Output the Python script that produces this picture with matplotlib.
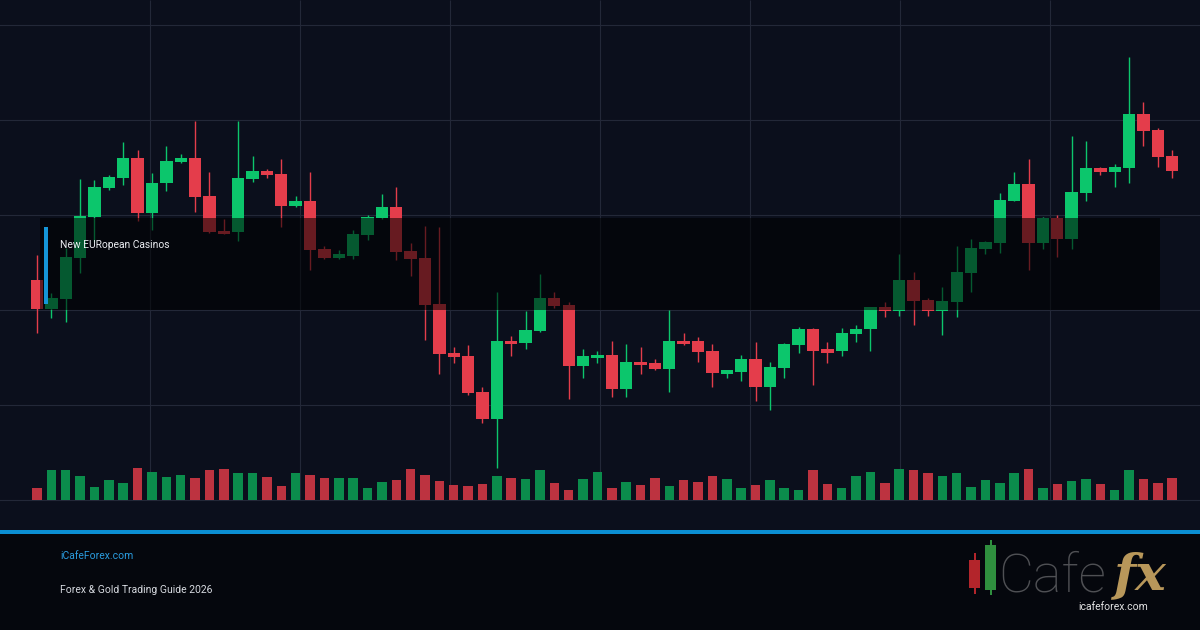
import numpy as np
import matplotlib
matplotlib.use("Agg")
import matplotlib.pyplot as plt
from matplotlib.patches import Rectangle

# OHLC (index level), 80 sessions
opens = [123.2, 120.1, 121.2, 125.5, 129.8, 132.8, 133.9, 136.0, 130.2, 133.4,
         135.6, 136.0, 132.0, 128.3, 128.2, 133.8, 134.6, 134.3, 130.9, 131.5,
         126.4, 125.5, 125.7, 127.9, 129.7, 130.8, 126.2, 125.5, 120.6, 115.5,
         115.2, 111.4, 108.5, 116.7, 116.5, 117.8, 121.3, 120.5, 114.1, 114.9,
         115.3, 111.7, 114.5, 114.4, 113.8, 116.7, 116.7, 115.7, 113.3, 113.5,
         114.8, 111.9, 113.9, 116.3, 118.0, 115.8, 115.7, 117.5, 118.0, 120.3,
         119.9, 123.2, 121.1, 119.9, 120.8, 123.9, 126.4, 127.1, 131.5, 133.3,
         127.1, 129.7, 127.5, 132.3, 134.9, 134.5, 134.9, 140.6, 138.9, 136.2]
highs = [125.8, 121.8, 126.5, 133.8, 133.7, 134.2, 137.7, 136.8, 134.4, 137.3,
         136.4, 139.9, 134.5, 129.6, 139.9, 136.2, 134.8, 135.9, 132.0, 134.5,
         126.7, 126.3, 128.4, 130.0, 132.2, 132.9, 127.1, 128.8, 128.7, 116.1,
         116.3, 111.9, 121.9, 117.3, 119.9, 123.8, 121.9, 120.8, 115.9, 115.7,
         116.7, 116.4, 116.1, 114.8, 120.0, 117.6, 117.2, 116.4, 113.7, 115.3,
         116.6, 114.5, 116.5, 118.2, 118.1, 116.6, 118.1, 118.4, 120.3, 120.8,
         125.9, 124.0, 121.3, 122.4, 126.7, 127.5, 127.3, 132.3, 134.5, 135.9,
         129.8, 130.0, 138.3, 137.8, 135.1, 135.4, 146.6, 141.9, 139.2, 136.8]
lows = [117.6, 119.2, 118.7, 123.9, 127.2, 132.6, 133.2, 129.4, 128.4, 132.5,
        135.5, 130.3, 128.1, 128.0, 127.3, 133.5, 133.9, 128.7, 130.8, 124.2,
        125.4, 125.4, 125.4, 127.4, 129.6, 125.3, 123.6, 116.8, 113.3, 114.4,
        111.1, 108.1, 103.4, 115.2, 115.9, 117.7, 120.2, 110.6, 112.8, 114.4,
        110.8, 110.8, 113.3, 113.7, 111.4, 116.3, 114.5, 111.9, 112.8, 112.5,
        110.4, 109.5, 112.8, 115.5, 112.1, 114.4, 115.2, 116.6, 115.7, 119.3,
        119.4, 118.4, 119.4, 117.4, 119.3, 121.9, 125.9, 126.0, 131.5, 124.2,
        126.4, 125.6, 126.4, 131.5, 134.2, 132.9, 133.4, 137.3, 135.1, 133.9]
closes = [120.1, 121.3, 125.6, 129.9, 132.9, 134.0, 136.0, 130.2, 133.4, 135.7,
          136.0, 131.9, 128.2, 128.0, 133.9, 134.6, 134.2, 130.9, 131.5, 126.3,
          125.5, 125.8, 128.0, 129.8, 130.8, 126.1, 125.4, 120.5, 115.4, 115.1,
          111.3, 108.5, 116.7, 116.4, 117.9, 121.3, 120.4, 114.1, 115.2, 115.3,
          111.7, 114.5, 114.2, 113.8, 116.7, 116.4, 115.6, 113.4, 113.6, 114.8,
          111.9, 114.0, 116.4, 118.0, 115.7, 115.5, 117.6, 118.0, 120.3, 119.9,
          123.2, 120.9, 119.9, 120.9, 124.0, 126.5, 127.2, 131.6, 133.3, 127.1,
          129.7, 127.5, 132.4, 134.9, 134.5, 135.1, 140.6, 138.8, 136.1, 134.6]
volumes = [12, 30, 30, 24, 13, 20, 17, 32, 28, 23, 25, 22, 30, 31, 27, 27, 23, 14, 27, 25,
           22, 22, 22, 12, 18, 20, 31, 25, 19, 15, 14, 16, 24, 22, 21, 30, 17, 10, 21, 28,
           12, 18, 15, 22, 14, 20, 18, 24, 21, 12, 15, 20, 12, 10, 30, 16, 12, 24, 28, 17,
           31, 30, 27, 24, 27, 13, 20, 17, 27, 31, 12, 16, 19, 21, 16, 10, 30, 21, 17, 22]

label = "New EURopean Casinos"
site = "iCafeForex.com"
subtitle = "Forex & Gold Trading Guide 2026"

o = np.array(opens)
h = np.array(highs)
l = np.array(lows)
c = np.array(closes)
v = np.array(volumes)
idx = np.arange(len(o))
up = c >= o

bg = "#0b0f1c"
green, red = "#0cc66c", "#e43d4b"
vgreen, vred = "#0b8c4c", "#bd3340"
grid_c = "#232838"

W, H = 1200, 630
fig = plt.figure(figsize=(12, 6.3), dpi=100, facecolor=bg)

# pixel layout helpers
x0, step = 37.0, 14.37
xlim = (-x0 / step, (W - x0) / step)
pos = [0, 110 / H, 1, 520 / H]
ytop = 100 + 500 / 9.5

ax = fig.add_axes(pos)
ax.set_facecolor("none")
ax.set_xlim(*xlim)
ax.set_ylim(100 - 20 / 9.5, ytop)
ax.set_yticks(np.arange(100, 151, 10))
ax.set_xticks([])
ax.grid(True, axis="y", color=grid_c, linewidth=0.8)
ax.vlines((np.arange(150, 1051, 150) - x0) / step, 100, ytop,
          color=grid_c, linewidth=0.8, zorder=0)
ax.tick_params(length=0, labelbottom=False, labelleft=False)
for s in ax.spines.values():
    s.set_visible(False)
ax.set_axisbelow(True)

cols = np.where(up, green, red)
ax.vlines(idx, l, h, colors=cols, linewidth=1.0, zorder=2)
body_lo = np.minimum(o, c)
body_h = np.maximum(np.abs(c - o), 0.35)
ax.bar(idx, body_h, bottom=body_lo, width=0.86, color=cols, zorder=3)

# volume pane
axv = fig.add_axes(pos, sharex=ax)
axv.set_facecolor("none")
axv.set_ylim(-20, 500)
axv.bar(idx, v, width=0.66, color=np.where(up, vgreen, vred), zorder=2)
axv.axis("off")

# highlight zone over the candles
ax.add_patch(Rectangle(((40 - x0) / step, 120.0), 1120 / step, 9.7,
                       facecolor="black", alpha=0.55, edgecolor="none", zorder=5))
ax.add_patch(Rectangle(((44 - x0) / step, 120.6), 4 / step, 8.1,
                       facecolor="#1596d8", edgecolor="none", zorder=6))
fig.text(60 / W, 1 - 245 / H, label, color="#eceef3", fontsize=7.4,
         family=["Roboto", "DejaVu Sans"], va="center", ha="left", zorder=7)

# footer
fig.add_artist(Rectangle((0, 0), 1, 1 - 532 / H, transform=fig.transFigure,
                         facecolor="#05070d", edgecolor="none", zorder=0))
fig.add_artist(Rectangle((0, 1 - 534 / H), 1, 4 / H, transform=fig.transFigure,
                         facecolor="#0b8fd3", edgecolor="none", zorder=1))
fig.text(60 / W, 1 - 556 / H, site, color="#2a9de0", fontsize=7.5,
         family=["Roboto", "DejaVu Sans"], va="center", ha="left")
fig.text(60 / W, 1 - 590 / H, subtitle, color="#d6d9df", fontsize=7.5,
         family=["Roboto", "DejaVu Sans"], va="center", ha="left")

# logo
def px_rect(x, y, w, hh, col):
    fig.add_artist(Rectangle((x / W, 1 - (y + hh) / H), w / W, hh / H,
                             transform=fig.transFigure, facecolor=col,
                             edgecolor="none", zorder=2))

px_rect(974, 553, 1.5, 41, "#b3252b")
px_rect(969, 560, 11, 28, "#b3252b")
px_rect(990, 540, 1.5, 55, "#2f8f3e")
px_rect(985, 545, 11, 45, "#2f8f3e")
fig.text(998 / W, 1 - 591 / H, "Cafe", color="#4f5054", fontsize=39,
         family=["Roboto", "DejaVu Sans"], fontweight="light", va="baseline", ha="left")
fig.text(1113 / W, 1 - 589 / H, "fx", color="#b8975a", fontsize=37,
         family=["DejaVu Serif"], style="italic", fontweight="bold",
         va="baseline", ha="left")
fig.text(1113 / W, 1 - 607 / H, "icafeforex.com", color="#e2e2e2", fontsize=7.5,
         family=["Roboto", "DejaVu Sans"], va="center", ha="center")

fig.savefig("out.png", dpi=100, facecolor=bg)
